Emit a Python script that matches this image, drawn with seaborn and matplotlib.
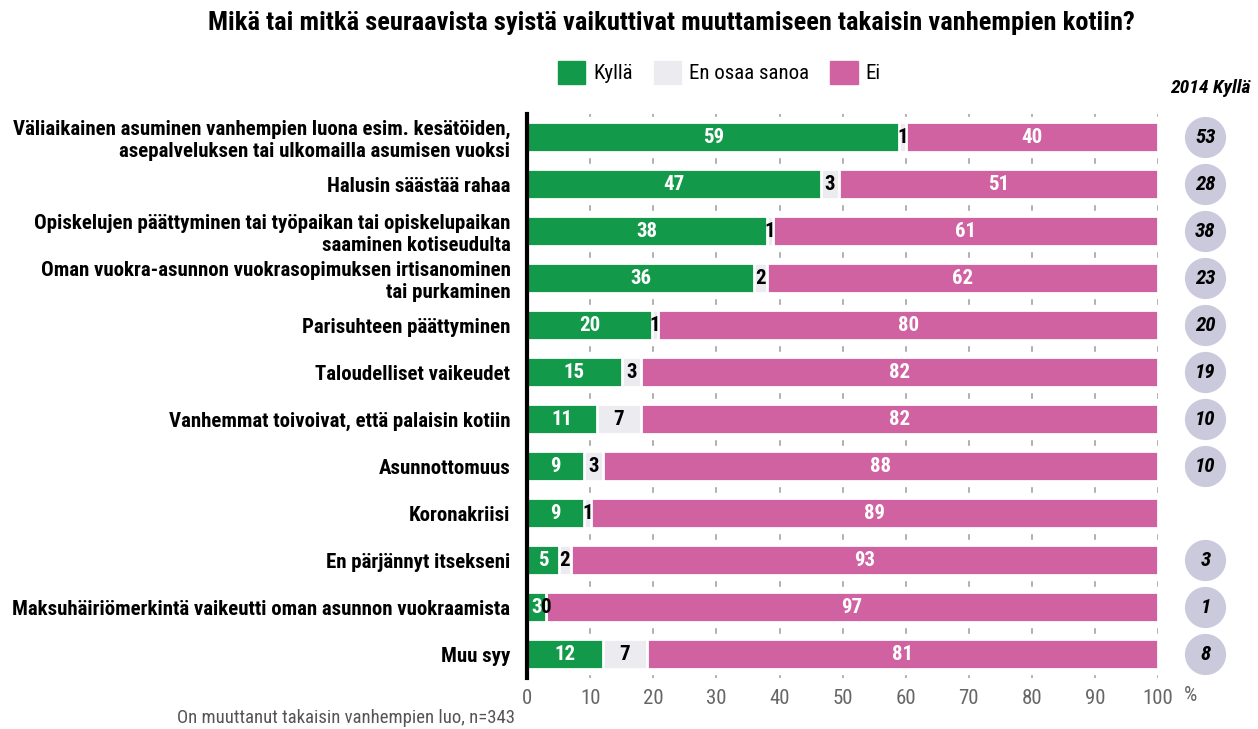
import numpy as np
import pandas as pd
import matplotlib.pyplot as plt
import seaborn as sns
from matplotlib.patches import Patch
from matplotlib import font_manager as fm

# data
reasons = [
    "Väliaikainen asuminen vanhempien luona esim. kesätöiden,\nasepalveluksen tai ulkomailla asumisen vuoksi",
    "Halusin säästää rahaa",
    "Opiskelujen päättyminen tai työpaikan tai opiskelupaikan\nsaaminen kotiseudulta",
    "Oman vuokra-asunnon vuokrasopimuksen irtisanominen\ntai purkaminen",
    "Parisuhteen päättyminen",
    "Taloudelliset vaikeudet",
    "Vanhemmat toivoivat, että palaisin kotiin",
    "Asunnottomuus",
    "Koronakriisi",
    "En pärjännyt itsekseni",
    "Maksuhäiriömerkintä vaikeutti oman asunnon vuokraamista",
    "Muu syy",
]
kylla = [59, 47, 38, 36, 20, 15, 11, 9, 9, 5, 3, 12]
eos = [1, 3, 1, 2, 1, 3, 7, 3, 1, 2, 0, 7]
ei = [40, 51, 61, 62, 80, 82, 82, 88, 89, 93, 97, 81]
kylla_2014 = [53, 28, 38, 23, 20, 19, 10, 10, None, 3, 1, 8]
ticks = [0, 10, 20, 30, 40, 50, 60, 70, 80, 90, 100]

GREEN = "#13994a"
GREY = "#ebebf0"
PINK = "#d062a2"
CIRCLE = "#cbc9dc"

sns.set_style("white")
have = {f.name for f in fm.fontManager.ttflist}
narrow = "Roboto Condensed" if "Roboto Condensed" in have else "Liberation Sans Narrow"
plt.rcParams['font.family'] = [narrow, 'DejaVu Sans']
plt.rcParams['text.color'] = 'black'

df = pd.DataFrame({"reason": reasons, "Kyllä": kylla, "En osaa sanoa": eos, "Ei": ei})
total = df[["Kyllä", "En osaa sanoa", "Ei"]].sum(axis=1)
df["k"] = df["Kyllä"] / total * 100
df["ke"] = (df["Kyllä"] + df["En osaa sanoa"]) / total * 100
df["all"] = 100.0

fig = plt.figure(figsize=(12.58, 7.29), dpi=100)
ax = fig.add_axes([0.419, 0.0706, 0.5016, 0.7737])

for t in ticks[1:]:
    ax.axvline(t, color="#aaaaaa", lw=1.3, zorder=0)

# white band behind each row to cut the grid lines short
sns.barplot(data=df, x="all", y="reason", color="white", width=0.85, ax=ax,
            orient="h", saturation=1, zorder=1)
sns.barplot(data=df, x="all", y="reason", color=PINK, width=0.62, ax=ax,
            orient="h", saturation=1, edgecolor="white", linewidth=2, zorder=2)
sns.barplot(data=df, x="ke", y="reason", color=GREY, width=0.62, ax=ax,
            orient="h", saturation=1, edgecolor="white", linewidth=2, zorder=3)
sns.barplot(data=df, x="k", y="reason", color=GREEN, width=0.62, ax=ax,
            orient="h", saturation=1, edgecolor="white", linewidth=2, zorder=4)

fs = 15
for i, row in df.iterrows():
    ax.text(row["k"] / 2, i, str(row["Kyllä"]), color="white", ha="center", va="center",
            fontsize=fs, fontweight="bold", zorder=5)
    ax.text((row["k"] + row["ke"]) / 2, i, str(row["En osaa sanoa"]), color="black",
            ha="center", va="center", fontsize=fs, fontweight="bold", zorder=5)
    ax.text((row["ke"] + 100) / 2, i, str(row["Ei"]), color="white", ha="center",
            va="center", fontsize=fs, fontweight="bold", zorder=5)

# 2014 circles
for i, v in enumerate(kylla_2014):
    if v is None:
        continue
    ax.scatter([107.5], [i], s=880, color=CIRCLE, clip_on=False, zorder=5, linewidths=0)
    ax.text(107.5, i, str(v), ha="center", va="center", fontsize=fs, fontweight="bold",
            style="italic", zorder=6)

ax.set_xlim(0, 100)
ax.set_ylim(11.5, -0.5)
ax.set_xticks(ticks)
ax.set_xticklabels([str(t) for t in ticks], color="#666666", fontsize=15)
ax.set_xlabel("")
ax.set_ylabel("")
ax.tick_params(axis="x", length=0, pad=8)
ax.tick_params(axis="y", length=0, pad=12)
for lab in ax.get_yticklabels():
    lab.set_fontsize(15)
    lab.set_fontweight("bold")
    lab.set_color("black")
    lab.set_multialignment("right")
fig.text(0.941, 0.046, "%", ha="left", va="center", fontsize=15, color="#666666")

for s in ["top", "right", "bottom"]:
    ax.spines[s].set_visible(False)
ax.spines["left"].set_color("black")
ax.spines["left"].set_linewidth(3)
ax.spines["left"].set_zorder(6)

fig.text(0.534, 0.968, "Mikä tai mitkä seuraavista syistä vaikuttivat muuttamiseen takaisin vanhempien kotiin?",
         ha="center", va="center", fontsize=19, fontweight="bold")

handles = [Patch(color=GREEN, label="Kyllä"), Patch(color=GREY, label="En osaa sanoa"),
           Patch(color=PINK, label="Ei")]
fig.legend(handles=handles, loc="center", bbox_to_anchor=(0.572, 0.901), ncol=3, frameon=False,
           fontsize=15, handlelength=1.3, handleheight=1.3, handletextpad=0.4, columnspacing=1.0)

fig.text(0.994, 0.879, "2014 Kyllä", ha="right", va="center", fontsize=14, fontweight="bold",
         style="italic")
fig.text(0.409, 0.015, "On muuttanut takaisin vanhempien luo, n=343", ha="right", va="center",
         fontsize=13.5, color="#555555")

fig.savefig("out.png", dpi=100)
